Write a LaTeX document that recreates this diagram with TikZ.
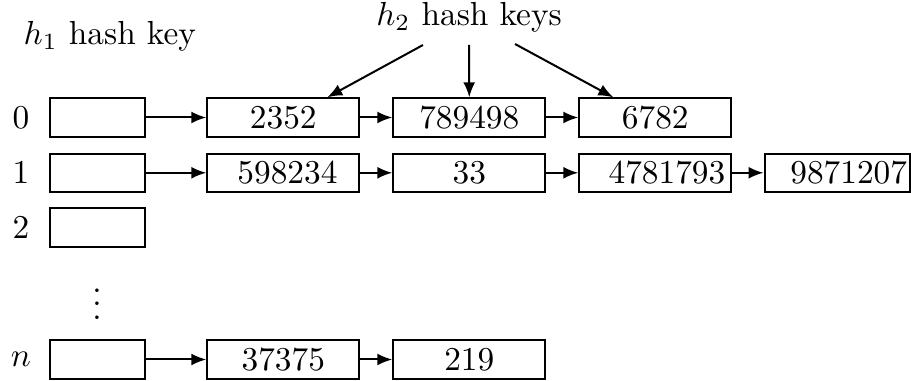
\documentclass[tikz,border=0pt]{standalone}
\usetikzlibrary{arrows.meta,calc}
\begin{document}
\begin{tikzpicture}[x=0.3pt,y=-0.3pt,
  cell/.style={draw,line width=0.6pt,rectangle,inner sep=0pt,minimum height=11.5pt},
  headbox/.style={cell,minimum width=28.5pt},
  chainbox/.style={cell,minimum width=45.6pt},
  link/.style={line width=0.6pt,-{Latex[length=4.5pt,width=3.6pt]}},
  rowlab/.style={inner sep=0pt}]
\useasboundingbox (0,0) rectangle (911,381);
% header labels
\node[anchor=base west,inner sep=0pt] (h1) at (23,45) {$h_1$ hash key};
\node[anchor=base,inner sep=0pt] (h2) at (469,26) {$h_2$ hash keys};
% head boxes
\node[headbox] (a0) at (97.5,117.5) {};
\node[headbox] (a1) at (97.5,172.8) {};
\node[headbox] (a2) at (97.5,227.5) {};
\node[headbox] (an) at (97.5,359.5) {};
\node[rowlab] (l0) at (21,117.5) {$0$};
\node[rowlab] (l1) at (21,172.8) {$1$};
\node[rowlab] (l2) at (21,227.5) {$2$};
\node[rowlab] (ln) at (21,359.5) {$n$};
\node[inner sep=0pt] (dots) at (97,294) {$\vdots$};
% row 0
\node[chainbox] (b01) at (283.3,117.5) {2352};
\node[chainbox] (b02) at (469.3,117.5) {789498};
\node[chainbox] (b03) at (655.3,117.5) {6782};
% row 1
\node[chainbox] (b11) at (283.3,172.8) {\hspace*{2.5pt}598234};
\node[chainbox] (b12) at (469.3,172.8) {33};
\node[chainbox] (b13) at (655.3,172.8) {\hspace*{7pt}4781793};
\node[chainbox,minimum width=43.5pt] (b14) at (837,172.8) {\hspace*{7pt}9871207};
% row n
\node[chainbox] (bn1) at (283.3,359.5) {37375};
\node[chainbox] (bn2) at (469.3,359.5) {219};
% links
\draw[link] (a0) -- (b01);
\draw[link] (b01) -- (b02);
\draw[link] (b02) -- (b03);
\draw[link] (a1) -- (b11);
\draw[link] (b11) -- (b12);
\draw[link] (b12) -- (b13);
\draw[link] (b13) -- (b14);
\draw[link] (an) -- (bn1);
\draw[link] (bn1) -- (bn2);
% h2 arrows
\draw[link] ($(h2.base)+(-46,19)$) -- ($(b01.north)+(44,0)$);
\draw[link] ($(h2.base)+(0,19)$) -- (b02.north);
\draw[link] ($(h2.base)+(46,18)$) -- ($(b03.north)+(-42,0)$);
\end{tikzpicture}
\end{document}
